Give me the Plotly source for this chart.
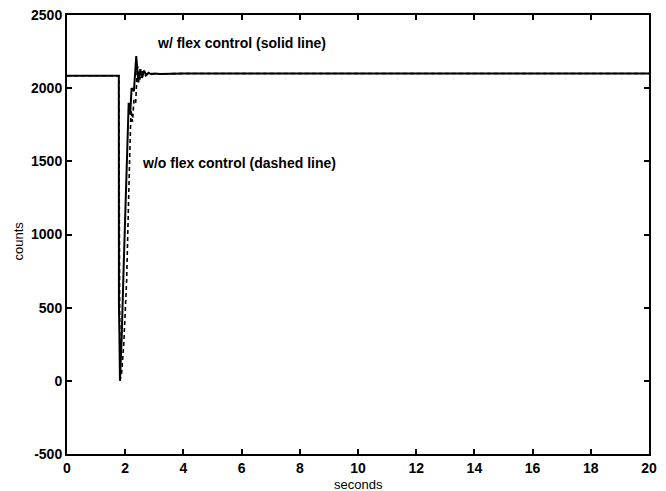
import plotly.graph_objects as go

# w/ flex control (solid line)
t_solid = [0, 1.78, 1.785, 1.79, 1.80, 1.82, 1.88, 1.95, 2.05, 2.12, 2.17, 2.22, 2.30, 2.38, 2.45, 2.52,
           2.58, 2.65, 2.72, 2.80, 2.90, 3.00, 3.20, 4.0, 8.0, 12.0, 16.0, 20.0]
y_solid = [2085, 2085, 520, 480, 330, 0, 300, 800, 1500, 1900, 1820, 2000, 1980, 2220, 2040, 2130,
           2070, 2120, 2090, 2105, 2095, 2100, 2097, 2100, 2100, 2100, 2100, 2100]

# w/o flex control (dashed line)
t_dash = [0, 1.78, 1.82, 1.88, 1.95, 2.05, 2.15, 2.20, 2.25, 2.30, 2.36, 2.42, 2.50, 2.60, 2.70, 2.80,
          3.0, 4.0, 8.0, 12.0, 16.0, 20.0]
y_dash = [2085, 2085, 0, 60, 250, 690, 1500, 1850, 1770, 1920, 1900, 2150, 2060, 2115, 2085, 2100,
          2098, 2100, 2100, 2100, 2100, 2100]

x_ticks = [0, 2, 4, 6, 8, 10, 12, 14, 16, 18, 20]
y_ticks = [-500, 0, 500, 1000, 1500, 2000, 2500]

FONT = "Liberation Sans, Arial, Helvetica"

fig = go.Figure()
fig.add_trace(go.Scatter(x=t_dash, y=y_dash, mode="lines",
                         line=dict(color="black", width=1.6, dash="4px,3px"), name="w/o flex control"))
fig.add_trace(go.Scatter(x=t_solid, y=y_solid, mode="lines",
                         line=dict(color="black", width=2), name="w/ flex control"))

fig.add_annotation(x=5.98, y=2309, text="<b>w/ flex control (solid line)</b>", showarrow=False,
                   font=dict(size=14, color="black", family=FONT))
fig.add_annotation(x=5.91, y=1489, text="<b>w/o flex control (dashed line)</b>", showarrow=False,
                   font=dict(size=14, color="black", family=FONT))

# axis titles
fig.add_annotation(xref="paper", yref="paper", x=0.5, y=0, xanchor="center", yanchor="middle",
                   yshift=-30, text="seconds",
                   showarrow=False, font=dict(size=13, color="black", family=FONT))
fig.add_annotation(xref="paper", yref="paper", x=0, y=0.5, xanchor="center", yanchor="middle",
                   xshift=-49, yshift=-7, text="counts",
                   textangle=-90, showarrow=False, font=dict(size=13, color="black", family=FONT))

axis_common = dict(showgrid=False, zeroline=False, showline=True, linecolor="black", linewidth=2,
                   mirror="ticks", ticks="inside", ticklen=5, tickwidth=1.5, tickcolor="black",
                   automargin=False,
                   tickfont=dict(size=14, color="black", family=FONT, weight="bold"))

fig.update_layout(
    width=666, height=491,
    margin=dict(l=67, r=17, t=15, b=37),
    paper_bgcolor="white", plot_bgcolor="white",
    showlegend=False,
    xaxis=dict(range=[0, 20], tickvals=x_ticks, ticktext=[str(v) for v in x_ticks], **axis_common),
    yaxis=dict(range=[-500, 2500], tickvals=y_ticks, ticktext=[str(v) for v in y_ticks], **axis_common),
)

fig.write_html("out.html", config={"displayModeBar": False},
               post_script="document.body.style.margin='0';document.body.style.overflow='hidden';")
